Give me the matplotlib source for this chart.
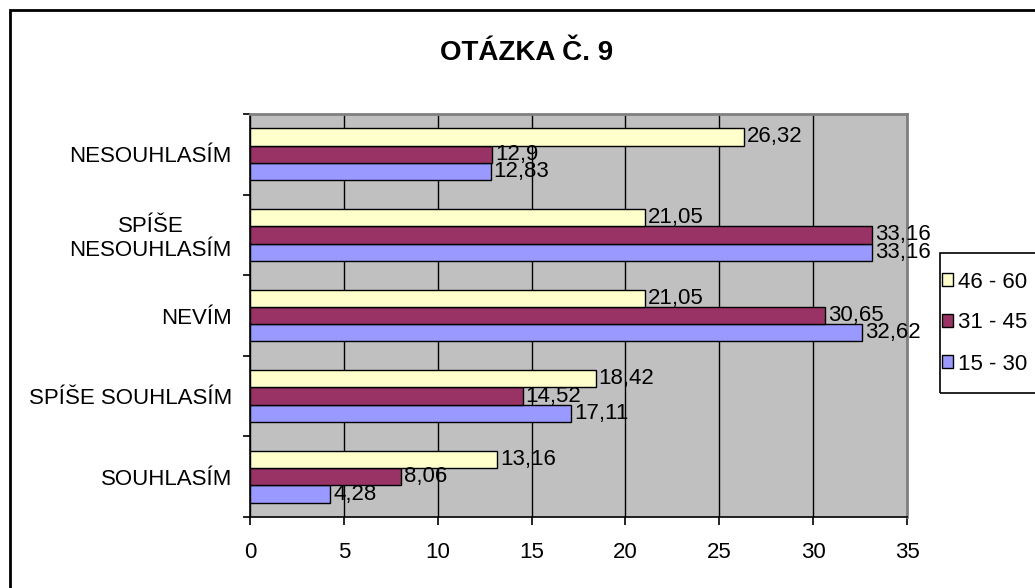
import numpy as np
import matplotlib.pyplot as plt
from matplotlib.patches import Rectangle

plt.rcParams['font.family'] = ['Liberation Sans', 'DejaVu Sans']

# answers, bottom to top
categories = ['SOUHLASÍM', 'SPÍŠE SOUHLASÍM', 'NEVÍM', 'SPÍŠE\nNESOUHLASÍM', 'NESOUHLASÍM']
groups = ['15 - 30', '31 - 45', '46 - 60']
v_15_30 = [4.28, 17.11, 32.62, 33.16, 12.83]
v_31_45 = [8.06, 14.52, 30.65, 33.16, 12.9]
v_46_60 = [13.16, 18.42, 21.05, 21.05, 26.32]
colors = ['#9999FF', '#993366', '#FFFFCC']

W, H = 1035, 588
fig = plt.figure(figsize=(W / 100, H / 100), dpi=100)
ax = fig.add_axes([250 / W, 1 - 517 / H, 657 / W, 403 / H])
ax.set_facecolor('#C0C0C0')

y = np.arange(len(categories))
h = 0.215
series = [v_15_30, v_31_45, v_46_60]
for i, (vals, c, lab) in enumerate(zip(series, colors, groups)):
    pos = y + (i - 1) * h
    ax.barh(pos, vals, height=h, color=c, edgecolor='black', linewidth=1.0, label=lab, zorder=3)
    for p, v in zip(pos, vals):
        txt = ('%g' % v).replace('.', ',')
        ax.annotate(txt, (v, p), xytext=(2, 0), textcoords='offset points',
                    va='center', ha='left', fontsize=16, zorder=4)

ax.set_xlim(0, 35)
ax.set_ylim(-0.5, 4.5)
ax.set_xticks(np.arange(0, 36, 5))
ax.xaxis.grid(True, color='black', linewidth=1.0, zorder=0)
ax.set_axisbelow(True)
ax.set_yticks(y)
ax.set_yticklabels(categories, fontsize=16, linespacing=1.15, multialignment='center')
ax.set_yticks(np.arange(-0.5, 5, 1), minor=True)
ax.tick_params(axis='y', which='major', length=0, pad=13)
ax.tick_params(axis='y', which='minor', length=5, width=1.2, direction='out')
ax.tick_params(axis='x', labelsize=16, length=6, width=1.2, pad=12)
for s in ['top', 'right']:
    ax.spines[s].set_color('#808080')
    ax.spines[s].set_linewidth(2)
for s in ['left', 'bottom']:
    ax.spines[s].set_linewidth(1.2)

fig.text(527 / W, 1 - 53 / H, 'OTÁZKA Č. 9', ha='center', va='center',
         fontsize=20, fontweight='bold')

# legend entries, with its box drawn separately (it runs off the right edge)
handles, labels = ax.get_legend_handles_labels()
leg = fig.legend(handles[::-1], labels[::-1], loc='center left',
                 bbox_to_anchor=(942 / W, 1 - 323 / H), fontsize=16, frameon=False,
                 handlelength=0.5, handleheight=0.5, handletextpad=0.2,
                 labelspacing=0.9, borderpad=0, borderaxespad=0)
fig.patches.append(Rectangle((940 / W, 1 - 393 / H), 0.2, 140 / H, transform=fig.transFigure,
                             fill=False, edgecolor='black', linewidth=1.2))

# outer chart frame
fig.patches.append(Rectangle((10 / W, -0.1), 1.2, 1 - 10 / H + 0.1, transform=fig.transFigure,
                             fill=False, edgecolor='black', linewidth=2))

fig.savefig('out.png', dpi=100)
